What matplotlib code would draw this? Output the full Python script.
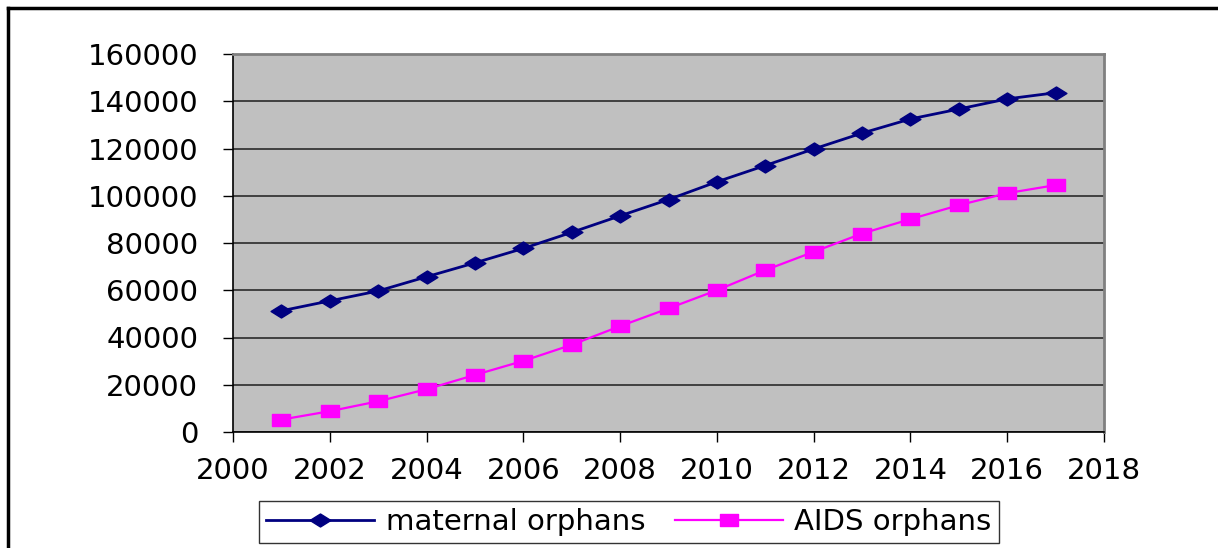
import numpy as np
import matplotlib.pyplot as plt
from matplotlib.path import Path
from matplotlib.lines import Line2D

# datos
years = [2001, 2002, 2003, 2004, 2005, 2006, 2007, 2008, 2009,
         2010, 2011, 2012, 2013, 2014, 2015, 2016, 2017]
maternal = [51300, 55500, 59700, 65700, 71600, 77700, 84500, 91500, 98400,
            105900, 112800, 119800, 126500, 132500, 136700, 141000, 143600]
aids = [5250, 8800, 13000, 18100, 24150, 30100, 36900, 44800, 52300,
        60000, 68500, 76250, 84000, 90100, 96000, 101100, 104500]
xticks = list(range(2000, 2019, 2))
yticks = list(range(0, 160001, 20000))

plt.rcParams['font.family'] = ['DejaVu Sans']

# marcadores estirados horizontalmente
diamond = Path([(-1.6, 0), (0, 1), (1.6, 0), (0, -1), (-1.6, 0)],
               [Path.MOVETO, Path.LINETO, Path.LINETO, Path.LINETO, Path.CLOSEPOLY])
square = Path([(-1.6, -1), (1.6, -1), (1.6, 1), (-1.6, 1), (-1.6, -1)],
              [Path.MOVETO, Path.LINETO, Path.LINETO, Path.LINETO, Path.CLOSEPOLY])

fig = plt.figure(figsize=(12.18, 5.48), dpi=100)
ax = fig.add_axes([233/1218, 1-432/548, (1104-233)/1218, (432-54)/548])
ax.set_facecolor('#C0C0C0')

ax.plot(years, maternal, color='#000080', lw=2, marker=diamond, markersize=15,
        markerfacecolor='#000080', markeredgecolor='#000080', label='maternal orphans', zorder=3)
ax.plot(years, aids, color='#FF00FF', lw=1.6, marker=square, markersize=13.5,
        markerfacecolor='#FF00FF', markeredgecolor='#FF00FF', label='AIDS orphans', zorder=3)

ax.set_xlim(2000, 2018)
ax.set_ylim(0, 160000)
ax.set_xticks(xticks)
ax.set_yticks(yticks)
ax.set_xticklabels([str(t) for t in xticks])
ax.set_yticklabels([str(t) for t in yticks])
ax.tick_params(axis='both', direction='out', length=7, width=1, color='black',
               labelsize=21)
ax.tick_params(axis='x', pad=11)
ax.tick_params(axis='y', pad=18)
ax.yaxis.grid(True, color='#2a2a2a', lw=1.2)
ax.set_axisbelow(True)
for s in ['left', 'bottom']:
    ax.spines[s].set_color('black')
    ax.spines[s].set_linewidth(1.2)
for s in ['top', 'right']:
    ax.spines[s].set_color('#808080')
    ax.spines[s].set_linewidth(2)

leg = fig.legend(loc='center', bbox_to_anchor=(629/1218, 1-522/548), ncol=2,
                 fontsize=21, frameon=True, fancybox=False, edgecolor='black',
                 handlelength=3.7, columnspacing=1.0, handletextpad=0.4,
                 borderpad=0.25, borderaxespad=0.3, markerscale=1.0)
leg.get_frame().set_linewidth(1)

# marco exterior
fig.add_artist(Line2D([8/1218, 1], [1-8/548, 1-8/548], color='black', lw=2.5))
fig.add_artist(Line2D([8/1218, 8/1218], [0, 1-8/548], color='black', lw=2.5))

fig.savefig('out.png', dpi=100)
